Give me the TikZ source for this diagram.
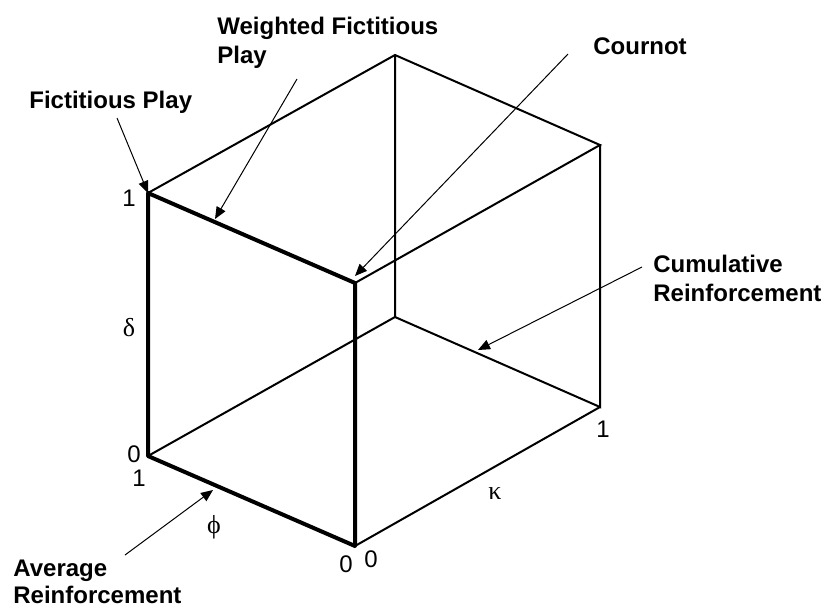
\documentclass[tikz,border=0pt]{standalone}
\usepackage{fontspec}
\setmainfont{Liberation Sans}
\newfontfamily\greekfont{Liberation Serif}
\usetikzlibrary{arrows.meta}

\begin{document}
\begin{tikzpicture}[
  x=0.5pt, y=-0.5pt,
  lbl/.style={font=\bfseries\fontsize{12}{14.5}\selectfont, align=left, inner sep=0pt},
  num/.style={font=\fontsize{12}{14}\selectfont, inner sep=0pt},
  sym/.style={font=\greekfont\fontsize{13}{15}\selectfont, inner sep=0pt},
  thinedge/.style={line width=1pt},
  frontedge/.style={line width=2pt, line cap=round, line join=round},
  pointer/.style={-{Triangle[length=6pt,width=5pt]}, line width=0.5pt},
]
  \useasboundingbox (0,0) rectangle (826,606);

  % cube corners
  \coordinate (ftl) at (148,193);
  \coordinate (ftr) at (355,283);
  \coordinate (fbl) at (148,456);
  \coordinate (fbr) at (355,546);
  \coordinate (btl) at (395,55);
  \coordinate (btr) at (600,145);
  \coordinate (bbl) at (395,317);
  \coordinate (bbr) at (600,407);

  \draw[thinedge] (ftl) -- (btl) -- (btr) -- (ftr);
  \draw[thinedge] (btl) -- (bbl) -- (bbr) -- (btr);
  \draw[thinedge] (fbl) -- (bbl);
  \draw[thinedge] (fbr) -- (bbr);
  \draw[frontedge] (ftl) -- (ftr) -- (fbr) -- (fbl) -- cycle;

  % axis values
  \node[num, anchor=base east] (dtop) at (136,206) {1};
  \node[sym] (delta) at (129,328) {δ};
  \node[num, anchor=base east] (dbot) at (141,462) {0};
  \node[num, anchor=base east] (pleft) at (146,486) {1};
  \node[sym] (phi) at (214,527) {ϕ};
  \node[num, anchor=base east] (pright) at (353,572) {0};
  \node[num, anchor=base west] (kleft) at (364,567) {0};
  \node[sym] (kappa) at (495,494) {κ};
  \node[num, anchor=base west] (kright) at (596,437) {1};

  % model labels
  \node[lbl, anchor=base west] (fp) at (29,108) {Fictitious Play};
  \node[lbl, anchor=north west] (wfp) at (217,17) {Weighted Fictitious\\Play};
  \node[lbl, anchor=base west] (cournot) at (593,54) {Cournot};
  \node[lbl, anchor=north west] (cumrf) at (653,255) {Cumulative\\Reinforcement};
  \node[lbl, anchor=north west, font=\bfseries\fontsize{12}{13.5}\selectfont] (avgrf) at (13,560) {Average\\Reinforcement};

  \coordinate (fptail) at (117,118);
  \coordinate (wfptail) at (297,79);
  \coordinate (wfptip) at (215,219);
  \coordinate (cntail) at (568,54);
  \coordinate (cntip) at (355,276);
  \coordinate (cumtail) at (642,267);
  \coordinate (cumtip) at (478,350);
  \coordinate (avgtail) at (125,555);
  \coordinate (avgtip) at (213,490);

  \draw[pointer] (fptail) -- (ftl);
  \draw[pointer] (wfptail) -- (wfptip);
  \draw[pointer] (cntail) -- (cntip);
  \draw[pointer] (cumtail) -- (cumtip);
  \draw[pointer] (avgtail) -- (avgtip);
\end{tikzpicture}
\end{document}
